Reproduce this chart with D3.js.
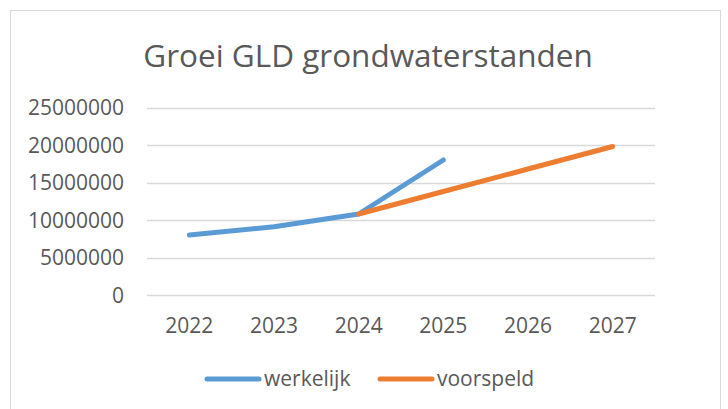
<!DOCTYPE html>
<html>
<head>
<meta charset="utf-8">
<script src="https://d3js.org/d3.v7.min.js"></script>
<style>
  html, body { margin: 0; padding: 0; background: #fff; }
  svg { display: block; }
  text { font-family: "Open Sans", "Noto Sans", sans-serif; fill: #595959; }
</style>
</head>
<body>
<svg id="chart"></svg>
<script>
  // Chart data
  const years = ["2022", "2023", "2024", "2025", "2026", "2027"];
  const werkelijk = [8000000, 9100000, 10800000, 18000000, null, null];
  const voorspeld = [null, null, 10800000, 13800000, 16800000, 19800000];
  const yTicks = [0, 5000000, 10000000, 15000000, 20000000, 25000000];
  const seriesNames = ["werkelijk", "voorspeld"];
  const seriesColors = ["#5B9BD5", "#ED7D31"];

  const width = 728, height = 409;
  const plot = { left: 147, right: 655, top: 107.5, bottom: 295 };

  const svg = d3.select("#chart")
    .attr("width", width)
    .attr("height", height);

  // outer chart border
  svg.append("rect")
    .attr("x", 10.5).attr("y", 10.5)
    .attr("width", 710).attr("height", 420)
    .attr("fill", "#fff")
    .attr("stroke", "#D9D9D9")
    .attr("stroke-width", 1);

  // title
  svg.append("text")
    .attr("x", 368).attr("y", 67)
    .attr("text-anchor", "middle")
    .attr("font-size", 31.5)
    .text("Groei GLD grondwaterstanden");

  const x = d3.scaleBand()
    .domain(years)
    .range([plot.left, plot.right]);

  const y = d3.scaleLinear()
    .domain([0, 25000000])
    .range([plot.bottom, plot.top]);

  // gridlines
  svg.append("g")
    .selectAll("line")
    .data(yTicks)
    .join("line")
    .attr("x1", plot.left).attr("x2", plot.right)
    .attr("y1", d => Math.round(y(d)) + 0.5)
    .attr("y2", d => Math.round(y(d)) + 0.5)
    .attr("stroke", "#D9D9D9")
    .attr("stroke-width", 1.5);

  // y axis labels
  svg.append("g")
    .selectAll("text")
    .data(yTicks)
    .join("text")
    .attr("x", 124)
    .attr("y", d => y(d) + 7.5)
    .attr("text-anchor", "end")
    .attr("font-size", 21)
    .text(d => d);

  // x axis labels
  svg.append("g")
    .selectAll("text")
    .data(years)
    .join("text")
    .attr("x", d => x(d) + x.bandwidth() / 2)
    .attr("y", 333)
    .attr("text-anchor", "middle")
    .attr("font-size", 21)
    .text(d => d);

  const line = d3.line()
    .defined(d => d.v !== null)
    .x(d => x(d.year) + x.bandwidth() / 2)
    .y(d => y(d.v));

  [werkelijk, voorspeld].forEach((vals, i) => {
    const pts = years.map((yr, j) => ({ year: yr, v: vals[j] }));
    svg.append("path")
      .datum(pts)
      .attr("d", line)
      .attr("fill", "none")
      .attr("stroke", seriesColors[i])
      .attr("stroke-width", 5)
      .attr("stroke-linecap", "round")
      .attr("stroke-linejoin", "round");
  });

  // legend
  const legendX = [207, 380];
  const legend = svg.append("g");
  seriesNames.forEach((name, i) => {
    legend.append("line")
      .attr("x1", legendX[i]).attr("x2", legendX[i] + 52)
      .attr("y1", 379).attr("y2", 379)
      .attr("stroke", seriesColors[i])
      .attr("stroke-width", 5)
      .attr("stroke-linecap", "round");
    legend.append("text")
      .attr("x", legendX[i] + 57)
      .attr("y", 386)
      .attr("font-size", 21)
      .text(name);
  });
</script>
</body>
</html>
